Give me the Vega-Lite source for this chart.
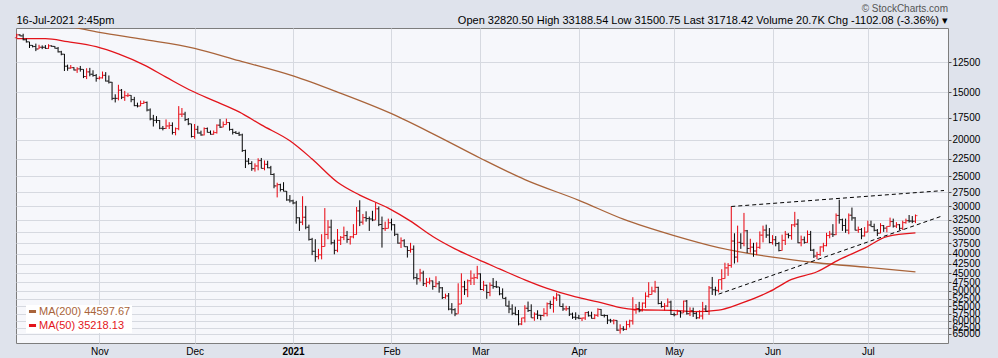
{
"$schema": "https://vega.github.io/schema/vega-lite/v6.json",
"width": 932, "height": 315,
"autosize": {"type": "none"},
"padding": {"left": 16, "top": 28, "right": 50, "bottom": 15},
"background": "#dfe3ec",
"title": {"text": "© StockCharts.com", "subtitle": "Open 32820.50 High 33188.54 Low 31500.75 Last 31718.42 Volume 20.7K Chg -1102.08 (-3.36%) ▾", "anchor": "end", "frame": "group", "offset": -12, "font": "Liberation Sans", "fontSize": 10, "fontWeight": "normal", "color": "#555555", "subtitleFont": "Liberation Sans", "subtitleFontSize": 11, "subtitleColor": "#000000", "subtitlePadding": 1},
"datasets": {
"px": [
{"d":"2020-10-06","o":10790,"h":10800,"l":10530,"c":10600},
{"d":"2020-10-07","o":10600,"h":10690,"l":10560,"c":10670},
{"d":"2020-10-08","o":10670,"h":10960,"l":10530,"c":10920},
{"d":"2020-10-09","o":10920,"h":11110,"l":10840,"c":11060},
{"d":"2020-10-10","o":11060,"h":11480,"l":11060,"c":11300},
{"d":"2020-10-11","o":11300,"h":11440,"l":11280,"c":11380},
{"d":"2020-10-12","o":11380,"h":11700,"l":11180,"c":11550},
{"d":"2020-10-13","o":11550,"h":11550,"l":11260,"c":11430},
{"d":"2020-10-14","o":11430,"h":11560,"l":11300,"c":11430},
{"d":"2020-10-15","o":11430,"h":11540,"l":11280,"c":11510},
{"d":"2020-10-16","o":11510,"h":11540,"l":11220,"c":11330},
{"d":"2020-10-17","o":11330,"h":11400,"l":11300,"c":11370},
{"d":"2020-10-18","o":11370,"h":11520,"l":11350,"c":11500},
{"d":"2020-10-19","o":11500,"h":11800,"l":11410,"c":11750},
{"d":"2020-10-20","o":11750,"h":12000,"l":11680,"c":11920},
{"d":"2020-10-21","o":11920,"h":13200,"l":11900,"c":12820},
{"d":"2020-10-22","o":12820,"h":13180,"l":12700,"c":12970},
{"d":"2020-10-23","o":12970,"h":13020,"l":12730,"c":12930},
{"d":"2020-10-24","o":12930,"h":13160,"l":12900,"c":13120},
{"d":"2020-10-25","o":13120,"h":13350,"l":12900,"c":13030},
{"d":"2020-10-26","o":13030,"h":13250,"l":12800,"c":13070},
{"d":"2020-10-27","o":13070,"h":13780,"l":13060,"c":13650},
{"d":"2020-10-28","o":13650,"h":13860,"l":12980,"c":13270},
{"d":"2020-10-29","o":13270,"h":13630,"l":12950,"c":13460},
{"d":"2020-10-30","o":13460,"h":13660,"l":13140,"c":13560},
{"d":"2020-10-31","o":13560,"h":14080,"l":13440,"c":13800},
{"d":"2020-11-01","o":13800,"h":13900,"l":13630,"c":13760},
{"d":"2020-11-02","o":13760,"h":13820,"l":13240,"c":13550},
{"d":"2020-11-03","o":13550,"h":14070,"l":13290,"c":14030},
{"d":"2020-11-04","o":14030,"h":14240,"l":13560,"c":14130},
{"d":"2020-11-05","o":14130,"h":15750,"l":14100,"c":15580},
{"d":"2020-11-06","o":15580,"h":15970,"l":15200,"c":15580},
{"d":"2020-11-07","o":15580,"h":15770,"l":14350,"c":14830},
{"d":"2020-11-08","o":14830,"h":15650,"l":14720,"c":15480},
{"d":"2020-11-09","o":15480,"h":15820,"l":14890,"c":15330},
{"d":"2020-11-10","o":15330,"h":15460,"l":15100,"c":15300},
{"d":"2020-11-11","o":15300,"h":15950,"l":15280,"c":15700},
{"d":"2020-11-12","o":15700,"h":16340,"l":15440,"c":16280},
{"d":"2020-11-13","o":16280,"h":16460,"l":15990,"c":16320},
{"d":"2020-11-14","o":16320,"h":16330,"l":15790,"c":16070},
{"d":"2020-11-15","o":16070,"h":16120,"l":15800,"c":15970},
{"d":"2020-11-16","o":15970,"h":16860,"l":15880,"c":16720},
{"d":"2020-11-17","o":16720,"h":17800,"l":16560,"c":17650},
{"d":"2020-11-18","o":17650,"h":18480,"l":17220,"c":17800},
{"d":"2020-11-19","o":17800,"h":18110,"l":17350,"c":17820},
{"d":"2020-11-20","o":17820,"h":18780,"l":17770,"c":18680},
{"d":"2020-11-21","o":18680,"h":18920,"l":18420,"c":18700},
{"d":"2020-11-22","o":18700,"h":18760,"l":17700,"c":18420},
{"d":"2020-11-23","o":18420,"h":18760,"l":18000,"c":18360},
{"d":"2020-11-24","o":18360,"h":19400,"l":18020,"c":19160},
{"d":"2020-11-25","o":19160,"h":19490,"l":18590,"c":18720},
{"d":"2020-11-26","o":18720,"h":18900,"l":16330,"c":17150},
{"d":"2020-11-27","o":17150,"h":17450,"l":16520,"c":17140},
{"d":"2020-11-28","o":17140,"h":17880,"l":16900,"c":17720},
{"d":"2020-11-29","o":17720,"h":18330,"l":17550,"c":18180},
{"d":"2020-11-30","o":18180,"h":19750,"l":18180,"c":19630},
{"d":"2020-12-01","o":19630,"h":19900,"l":18200,"c":18800},
{"d":"2020-12-02","o":18800,"h":19300,"l":18400,"c":19220},
{"d":"2020-12-03","o":19220,"h":19540,"l":18950,"c":19450},
{"d":"2020-12-04","o":19450,"h":19500,"l":18580,"c":18700},
{"d":"2020-12-05","o":18700,"h":19170,"l":18590,"c":19150},
{"d":"2020-12-06","o":19150,"h":19410,"l":18930,"c":19370},
{"d":"2020-12-07","o":19370,"h":19420,"l":18930,"c":19170},
{"d":"2020-12-08","o":19170,"h":19290,"l":18240,"c":18330},
{"d":"2020-12-09","o":18330,"h":18640,"l":17660,"c":18550},
{"d":"2020-12-10","o":18550,"h":18560,"l":17930,"c":18260},
{"d":"2020-12-11","o":18260,"h":18270,"l":17620,"c":18040},
{"d":"2020-12-12","o":18040,"h":18950,"l":18020,"c":18810},
{"d":"2020-12-13","o":18810,"h":19400,"l":18730,"c":19150},
{"d":"2020-12-14","o":19150,"h":19340,"l":19000,"c":19270},
{"d":"2020-12-15","o":19270,"h":19570,"l":19080,"c":19440},
{"d":"2020-12-16","o":19440,"h":21560,"l":19300,"c":21380},
{"d":"2020-12-17","o":21380,"h":23770,"l":21260,"c":22800},
{"d":"2020-12-18","o":22800,"h":23280,"l":22370,"c":23130},
{"d":"2020-12-19","o":23130,"h":24170,"l":22800,"c":23860},
{"d":"2020-12-20","o":23860,"h":24290,"l":23100,"c":23470},
{"d":"2020-12-21","o":23470,"h":24100,"l":22400,"c":22720},
{"d":"2020-12-22","o":22720,"h":23830,"l":22360,"c":23820},
{"d":"2020-12-23","o":23820,"h":24100,"l":22700,"c":23240},
{"d":"2020-12-24","o":23240,"h":23800,"l":22740,"c":23730},
{"d":"2020-12-25","o":23730,"h":24800,"l":23460,"c":24710},
{"d":"2020-12-26","o":24710,"h":26870,"l":24530,"c":26490},
{"d":"2020-12-27","o":26490,"h":28400,"l":25980,"c":26280},
{"d":"2020-12-28","o":26280,"h":27400,"l":26140,"c":27080},
{"d":"2020-12-29","o":27080,"h":27390,"l":25900,"c":27360},
{"d":"2020-12-30","o":27360,"h":28990,"l":27330,"c":28840},
{"d":"2020-12-31","o":28840,"h":29300,"l":28000,"c":29000},
{"d":"2021-01-01","o":29000,"h":29600,"l":28800,"c":29370},
{"d":"2021-01-02","o":29370,"h":33300,"l":29000,"c":32130},
{"d":"2021-01-03","o":32130,"h":34800,"l":32050,"c":33000},
{"d":"2021-01-04","o":33000,"h":33600,"l":28200,"c":32030},
{"d":"2021-01-05","o":32030,"h":34450,"l":29900,"c":34030},
{"d":"2021-01-06","o":34030,"h":36900,"l":33500,"c":36630},
{"d":"2021-01-07","o":36630,"h":40300,"l":36300,"c":39370},
{"d":"2021-01-08","o":39370,"h":41950,"l":36600,"c":40670},
{"d":"2021-01-09","o":40670,"h":41350,"l":38800,"c":40240},
{"d":"2021-01-10","o":40240,"h":41350,"l":35500,"c":38240},
{"d":"2021-01-11","o":38240,"h":38250,"l":30300,"c":35540},
{"d":"2021-01-12","o":35540,"h":36600,"l":32600,"c":34010},
{"d":"2021-01-13","o":34010,"h":37800,"l":32500,"c":37390},
{"d":"2021-01-14","o":37390,"h":40100,"l":36700,"c":39150},
{"d":"2021-01-15","o":39150,"h":39600,"l":34400,"c":36820},
{"d":"2021-01-16","o":36820,"h":37900,"l":35900,"c":36180},
{"d":"2021-01-17","o":36180,"h":36800,"l":33900,"c":35790},
{"d":"2021-01-18","o":35790,"h":37400,"l":34800,"c":36630},
{"d":"2021-01-19","o":36630,"h":37800,"l":35900,"c":36070},
{"d":"2021-01-20","o":36070,"h":36400,"l":33400,"c":35550},
{"d":"2021-01-21","o":35550,"h":35600,"l":30100,"c":30820},
{"d":"2021-01-22","o":30820,"h":33800,"l":28900,"c":33000},
{"d":"2021-01-23","o":33000,"h":33500,"l":31400,"c":32100},
{"d":"2021-01-24","o":32100,"h":32900,"l":30900,"c":32290},
{"d":"2021-01-25","o":32290,"h":34800,"l":31900,"c":32370},
{"d":"2021-01-26","o":32370,"h":32800,"l":30800,"c":32570},
{"d":"2021-01-27","o":32570,"h":32560,"l":29300,"c":30430},
{"d":"2021-01-28","o":30430,"h":33800,"l":30000,"c":33470},
{"d":"2021-01-29","o":33470,"h":38500,"l":31900,"c":34320},
{"d":"2021-01-30","o":34320,"h":34800,"l":32900,"c":34270},
{"d":"2021-01-31","o":34270,"h":34300,"l":32300,"c":33110},
{"d":"2021-02-01","o":33110,"h":34700,"l":32300,"c":33520},
{"d":"2021-02-02","o":33520,"h":35900,"l":33400,"c":35510},
{"d":"2021-02-03","o":35510,"h":37600,"l":35400,"c":37470},
{"d":"2021-02-04","o":37470,"h":38600,"l":36200,"c":36930},
{"d":"2021-02-05","o":36930,"h":38300,"l":36600,"c":38290},
{"d":"2021-02-06","o":38290,"h":40900,"l":38200,"c":39190},
{"d":"2021-02-07","o":39190,"h":39700,"l":37400,"c":38900},
{"d":"2021-02-08","o":38900,"h":46700,"l":38000,"c":46200},
{"d":"2021-02-09","o":46200,"h":48200,"l":45000,"c":46480},
{"d":"2021-02-10","o":46480,"h":47300,"l":43800,"c":44920},
{"d":"2021-02-11","o":44920,"h":48600,"l":44300,"c":47910},
{"d":"2021-02-12","o":47910,"h":48900,"l":46300,"c":47500},
{"d":"2021-02-13","o":47500,"h":48100,"l":46200,"c":47110},
{"d":"2021-02-14","o":47110,"h":49700,"l":47000,"c":48720},
{"d":"2021-02-15","o":48720,"h":49000,"l":45800,"c":47940},
{"d":"2021-02-16","o":47940,"h":50600,"l":47200,"c":49130},
{"d":"2021-02-17","o":49130,"h":52600,"l":48900,"c":52120},
{"d":"2021-02-18","o":52120,"h":52500,"l":50900,"c":51600},
{"d":"2021-02-19","o":51600,"h":56300,"l":50700,"c":55890},
{"d":"2021-02-20","o":55890,"h":57500,"l":53900,"c":56100},
{"d":"2021-02-21","o":56100,"h":58350,"l":55600,"c":57540},
{"d":"2021-02-22","o":57540,"h":57500,"l":47800,"c":54210},
{"d":"2021-02-23","o":54210,"h":54200,"l":45000,"c":48820},
{"d":"2021-02-24","o":48820,"h":51300,"l":47100,"c":49700},
{"d":"2021-02-25","o":49700,"h":52000,"l":46700,"c":47080},
{"d":"2021-02-26","o":47080,"h":48300,"l":44200,"c":46340},
{"d":"2021-02-27","o":46340,"h":48300,"l":45100,"c":46190},
{"d":"2021-02-28","o":46190,"h":46600,"l":43000,"c":45140},
{"d":"2021-03-01","o":45140,"h":49800,"l":45000,"c":49630},
{"d":"2021-03-02","o":49630,"h":50100,"l":47100,"c":48380},
{"d":"2021-03-03","o":48380,"h":52500,"l":48200,"c":50540},
{"d":"2021-03-04","o":50540,"h":51700,"l":47600,"c":48380},
{"d":"2021-03-05","o":48380,"h":49400,"l":46300,"c":48760},
{"d":"2021-03-06","o":48760,"h":49200,"l":47100,"c":48880},
{"d":"2021-03-07","o":48880,"h":51400,"l":48900,"c":50970},
{"d":"2021-03-08","o":50970,"h":52400,"l":49300,"c":52390},
{"d":"2021-03-09","o":52390,"h":54900,"l":51900,"c":54880},
{"d":"2021-03-10","o":54880,"h":57300,"l":53100,"c":55850},
{"d":"2021-03-11","o":55850,"h":58000,"l":54300,"c":57330},
{"d":"2021-03-12","o":57330,"h":58000,"l":55100,"c":57800},
{"d":"2021-03-13","o":57800,"h":61700,"l":56200,"c":61180},
{"d":"2021-03-14","o":61180,"h":61600,"l":58900,"c":58970},
{"d":"2021-03-15","o":58970,"h":60600,"l":54600,"c":55600},
{"d":"2021-03-16","o":55600,"h":56900,"l":53400,"c":56400},
{"d":"2021-03-17","o":56400,"h":58900,"l":54300,"c":58930},
{"d":"2021-03-18","o":58930,"h":60000,"l":57000,"c":57640},
{"d":"2021-03-19","o":57640,"h":59400,"l":56300,"c":58030},
{"d":"2021-03-20","o":58030,"h":59800,"l":57900,"c":58100},
{"d":"2021-03-21","o":58100,"h":58500,"l":55600,"c":57350},
{"d":"2021-03-22","o":57350,"h":58400,"l":53700,"c":54100},
{"d":"2021-03-23","o":54100,"h":55800,"l":53100,"c":54340},
{"d":"2021-03-24","o":54340,"h":57100,"l":51700,"c":52300},
{"d":"2021-03-25","o":52300,"h":53200,"l":50600,"c":51300},
{"d":"2021-03-26","o":51300,"h":55000,"l":51300,"c":55030},
{"d":"2021-03-27","o":55030,"h":56500,"l":54000,"c":55840},
{"d":"2021-03-28","o":55840,"h":56500,"l":54800,"c":55780},
{"d":"2021-03-29","o":55780,"h":58300,"l":54900,"c":57630},
{"d":"2021-03-30","o":57630,"h":59300,"l":57100,"c":58730},
{"d":"2021-03-31","o":58730,"h":59700,"l":57000,"c":58920},
{"d":"2021-04-01","o":58920,"h":59400,"l":57900,"c":59100},
{"d":"2021-04-02","o":59100,"h":60100,"l":58900,"c":59000},
{"d":"2021-04-03","o":59000,"h":59700,"l":56900,"c":57090},
{"d":"2021-04-04","o":57090,"h":58500,"l":56600,"c":58200},
{"d":"2021-04-05","o":58200,"h":59200,"l":56800,"c":59120},
{"d":"2021-04-06","o":59120,"h":59400,"l":57600,"c":58020},
{"d":"2021-04-07","o":58020,"h":58600,"l":55600,"c":56000},
{"d":"2021-04-08","o":56000,"h":58200,"l":55900,"c":58090},
{"d":"2021-04-09","o":58090,"h":58800,"l":57700,"c":58100},
{"d":"2021-04-10","o":58100,"h":61200,"l":57900,"c":59770},
{"d":"2021-04-11","o":59770,"h":60700,"l":59300,"c":60000},
{"d":"2021-04-12","o":60000,"h":61300,"l":59400,"c":59860},
{"d":"2021-04-13","o":59860,"h":63800,"l":59800,"c":63500},
{"d":"2021-04-14","o":63500,"h":64850,"l":61300,"c":62970},
{"d":"2021-04-15","o":62970,"h":63800,"l":62000,"c":63200},
{"d":"2021-04-16","o":63200,"h":63500,"l":60000,"c":61400},
{"d":"2021-04-17","o":61400,"h":62500,"l":59600,"c":60000},
{"d":"2021-04-18","o":60000,"h":61400,"l":52000,"c":56200},
{"d":"2021-04-19","o":56200,"h":57500,"l":54200,"c":55700},
{"d":"2021-04-20","o":55700,"h":57000,"l":53500,"c":56470},
{"d":"2021-04-21","o":56470,"h":56700,"l":53700,"c":53900},
{"d":"2021-04-22","o":53900,"h":55500,"l":50500,"c":51700},
{"d":"2021-04-23","o":51700,"h":52100,"l":47500,"c":51170},
{"d":"2021-04-24","o":51170,"h":51200,"l":48800,"c":50100},
{"d":"2021-04-25","o":50100,"h":50600,"l":47100,"c":49000},
{"d":"2021-04-26","o":49000,"h":54300,"l":48800,"c":54020},
{"d":"2021-04-27","o":54020,"h":55400,"l":53300,"c":55030},
{"d":"2021-04-28","o":55030,"h":56400,"l":53900,"c":54850},
{"d":"2021-04-29","o":54850,"h":55200,"l":52400,"c":53560},
{"d":"2021-04-30","o":53560,"h":57900,"l":53100,"c":57750},
{"d":"2021-05-01","o":57750,"h":58400,"l":57100,"c":57830},
{"d":"2021-05-02","o":57830,"h":57900,"l":56100,"c":56630},
{"d":"2021-05-03","o":56630,"h":58900,"l":56500,"c":57200},
{"d":"2021-05-04","o":57200,"h":57200,"l":53100,"c":53240},
{"d":"2021-05-05","o":53240,"h":57800,"l":52900,"c":57470},
{"d":"2021-05-06","o":57470,"h":58300,"l":55300,"c":56430},
{"d":"2021-05-07","o":56430,"h":58600,"l":55400,"c":57380},
{"d":"2021-05-08","o":57380,"h":59400,"l":56900,"c":58930},
{"d":"2021-05-09","o":58930,"h":59200,"l":56300,"c":58280},
{"d":"2021-05-10","o":58280,"h":59500,"l":53500,"c":55860},
{"d":"2021-05-11","o":55860,"h":56800,"l":54600,"c":56700},
{"d":"2021-05-12","o":56700,"h":57900,"l":48600,"c":49150},
{"d":"2021-05-13","o":49150,"h":51300,"l":46000,"c":49720},
{"d":"2021-05-14","o":49720,"h":51500,"l":48800,"c":49880},
{"d":"2021-05-15","o":49880,"h":50500,"l":46700,"c":46760},
{"d":"2021-05-16","o":46760,"h":49700,"l":43900,"c":46450},
{"d":"2021-05-17","o":46450,"h":46500,"l":42200,"c":43540},
{"d":"2021-05-18","o":43540,"h":45700,"l":42300,"c":42910},
{"d":"2021-05-19","o":42910,"h":43500,"l":30000,"c":37000},
{"d":"2021-05-20","o":37000,"h":42400,"l":35300,"c":40780},
{"d":"2021-05-21","o":40780,"h":42100,"l":33700,"c":37300},
{"d":"2021-05-22","o":37300,"h":38800,"l":35300,"c":37530},
{"d":"2021-05-23","o":37530,"h":38200,"l":31200,"c":34770},
{"d":"2021-05-24","o":34770,"h":39800,"l":34600,"c":38700},
{"d":"2021-05-25","o":38700,"h":39700,"l":36500,"c":38400},
{"d":"2021-05-26","o":38400,"h":40700,"l":37400,"c":39300},
{"d":"2021-05-27","o":39300,"h":40300,"l":37300,"c":38440},
{"d":"2021-05-28","o":38440,"h":38800,"l":34900,"c":35700},
{"d":"2021-05-29","o":35700,"h":37300,"l":33700,"c":34620},
{"d":"2021-05-30","o":34620,"h":36300,"l":33500,"c":35680},
{"d":"2021-05-31","o":35680,"h":37500,"l":34200,"c":37340},
{"d":"2021-06-01","o":37340,"h":37800,"l":35700,"c":36700},
{"d":"2021-06-02","o":36700,"h":38200,"l":35900,"c":37570},
{"d":"2021-06-03","o":37570,"h":39400,"l":37200,"c":39190},
{"d":"2021-06-04","o":39190,"h":39200,"l":35600,"c":36850},
{"d":"2021-06-05","o":36850,"h":37900,"l":34800,"c":35520},
{"d":"2021-06-06","o":35520,"h":36400,"l":35300,"c":35800},
{"d":"2021-06-07","o":35800,"h":36700,"l":33400,"c":33550},
{"d":"2021-06-08","o":33550,"h":34000,"l":31000,"c":33400},
{"d":"2021-06-09","o":33400,"h":37500,"l":32400,"c":37390},
{"d":"2021-06-10","o":37390,"h":38200,"l":35800,"c":36700},
{"d":"2021-06-11","o":36700,"h":37600,"l":36000,"c":37310},
{"d":"2021-06-12","o":37310,"h":37400,"l":34700,"c":35550},
{"d":"2021-06-13","o":35550,"h":39300,"l":34800,"c":39100},
{"d":"2021-06-14","o":39100,"h":41000,"l":38800,"c":40520},
{"d":"2021-06-15","o":40520,"h":41300,"l":39500,"c":40140},
{"d":"2021-06-16","o":40140,"h":40500,"l":38200,"c":38350},
{"d":"2021-06-17","o":38350,"h":39500,"l":37400,"c":38050},
{"d":"2021-06-18","o":38050,"h":38200,"l":35200,"c":35790},
{"d":"2021-06-19","o":35790,"h":36400,"l":34800,"c":35480},
{"d":"2021-06-20","o":35480,"h":36100,"l":33400,"c":35600},
{"d":"2021-06-21","o":35600,"h":35700,"l":31300,"c":31680},
{"d":"2021-06-22","o":31680,"h":33300,"l":28800,"c":32500},
{"d":"2021-06-23","o":32500,"h":34800,"l":32300,"c":33680},
{"d":"2021-06-24","o":33680,"h":35200,"l":32300,"c":34640},
{"d":"2021-06-25","o":34640,"h":35500,"l":31300,"c":31640},
{"d":"2021-06-26","o":31640,"h":32700,"l":30200,"c":32160},
{"d":"2021-06-27","o":32160,"h":34700,"l":32000,"c":34650},
{"d":"2021-06-28","o":34650,"h":35200,"l":33900,"c":34500},
{"d":"2021-06-29","o":34500,"h":36600,"l":34200,"c":35870},
{"d":"2021-06-30","o":35870,"h":36000,"l":34000,"c":35040},
{"d":"2021-07-01","o":35040,"h":35100,"l":32700,"c":33570},
{"d":"2021-07-02","o":33570,"h":33900,"l":32700,"c":33900},
{"d":"2021-07-03","o":33900,"h":34900,"l":33300,"c":34670},
{"d":"2021-07-04","o":34670,"h":35900,"l":34400,"c":35290},
{"d":"2021-07-05","o":35290,"h":35300,"l":33200,"c":33690},
{"d":"2021-07-06","o":33690,"h":35000,"l":33600,"c":34220},
{"d":"2021-07-07","o":34220,"h":35100,"l":33800,"c":33860},
{"d":"2021-07-08","o":33860,"h":33900,"l":32100,"c":32880},
{"d":"2021-07-09","o":32880,"h":34100,"l":32300,"c":33800},
{"d":"2021-07-10","o":33800,"h":34200,"l":33000,"c":33510},
{"d":"2021-07-11","o":33510,"h":34600,"l":33400,"c":34260},
{"d":"2021-07-12","o":34260,"h":34600,"l":32700,"c":33090},
{"d":"2021-07-13","o":33090,"h":33300,"l":32300,"c":32700},
{"d":"2021-07-14","o":32700,"h":33100,"l":31600,"c":32780},
{"d":"2021-07-15","o":32780,"h":33200,"l":31800,"c":32820.5},
{"d":"2021-07-16","o":32820.5,"h":33188.54,"l":31500.75,"c":31718.42}
],
"ma": [
{"d":"2020-10-06","v":9850,"s":"MA(200) 44597.67"},
{"d":"2020-10-20","v":10000,"s":"MA(200) 44597.67"},
{"d":"2020-11-01","v":10450,"s":"MA(200) 44597.67"},
{"d":"2020-11-15","v":10900,"s":"MA(200) 44597.67"},
{"d":"2020-12-01","v":11500,"s":"MA(200) 44597.67"},
{"d":"2020-12-15","v":12400,"s":"MA(200) 44597.67"},
{"d":"2021-01-01","v":13600,"s":"MA(200) 44597.67"},
{"d":"2021-01-15","v":15000,"s":"MA(200) 44597.67"},
{"d":"2021-02-01","v":17100,"s":"MA(200) 44597.67"},
{"d":"2021-02-15","v":19500,"s":"MA(200) 44597.67"},
{"d":"2021-03-01","v":22400,"s":"MA(200) 44597.67"},
{"d":"2021-03-15","v":25500,"s":"MA(200) 44597.67"},
{"d":"2021-04-01","v":28900,"s":"MA(200) 44597.67"},
{"d":"2021-04-15","v":32400,"s":"MA(200) 44597.67"},
{"d":"2021-05-01","v":35800,"s":"MA(200) 44597.67"},
{"d":"2021-05-15","v":38500,"s":"MA(200) 44597.67"},
{"d":"2021-06-01","v":40800,"s":"MA(200) 44597.67"},
{"d":"2021-06-15","v":42200,"s":"MA(200) 44597.67"},
{"d":"2021-07-01","v":43400,"s":"MA(200) 44597.67"},
{"d":"2021-07-16","v":44597.67,"s":"MA(200) 44597.67"},
{"d":"2020-10-06","v":10850,"s":"MA(50) 35218.13"},
{"d":"2020-10-15","v":10850,"s":"MA(50) 35218.13"},
{"d":"2020-10-22","v":11050,"s":"MA(50) 35218.13"},
{"d":"2020-10-31","v":11390,"s":"MA(50) 35218.13"},
{"d":"2020-11-07","v":11900,"s":"MA(50) 35218.13"},
{"d":"2020-11-15","v":12720,"s":"MA(50) 35218.13"},
{"d":"2020-11-22","v":13700,"s":"MA(50) 35218.13"},
{"d":"2020-11-30","v":14880,"s":"MA(50) 35218.13"},
{"d":"2020-12-07","v":15800,"s":"MA(50) 35218.13"},
{"d":"2020-12-15","v":16910,"s":"MA(50) 35218.13"},
{"d":"2020-12-22","v":18300,"s":"MA(50) 35218.13"},
{"d":"2020-12-31","v":20150,"s":"MA(50) 35218.13"},
{"d":"2021-01-07","v":22500,"s":"MA(50) 35218.13"},
{"d":"2021-01-15","v":25900,"s":"MA(50) 35218.13"},
{"d":"2021-01-22","v":28000,"s":"MA(50) 35218.13"},
{"d":"2021-01-31","v":30300,"s":"MA(50) 35218.13"},
{"d":"2021-02-07","v":32800,"s":"MA(50) 35218.13"},
{"d":"2021-02-14","v":36000,"s":"MA(50) 35218.13"},
{"d":"2021-02-21","v":38800,"s":"MA(50) 35218.13"},
{"d":"2021-02-28","v":41300,"s":"MA(50) 35218.13"},
{"d":"2021-03-07","v":43800,"s":"MA(50) 35218.13"},
{"d":"2021-03-15","v":46800,"s":"MA(50) 35218.13"},
{"d":"2021-03-22","v":49300,"s":"MA(50) 35218.13"},
{"d":"2021-03-31","v":51900,"s":"MA(50) 35218.13"},
{"d":"2021-04-07","v":53500,"s":"MA(50) 35218.13"},
{"d":"2021-04-15","v":55600,"s":"MA(50) 35218.13"},
{"d":"2021-04-22","v":56200,"s":"MA(50) 35218.13"},
{"d":"2021-04-30","v":56300,"s":"MA(50) 35218.13"},
{"d":"2021-05-07","v":56770,"s":"MA(50) 35218.13"},
{"d":"2021-05-15","v":56230,"s":"MA(50) 35218.13"},
{"d":"2021-05-22","v":54000,"s":"MA(50) 35218.13"},
{"d":"2021-05-31","v":50300,"s":"MA(50) 35218.13"},
{"d":"2021-06-07","v":46700,"s":"MA(50) 35218.13"},
{"d":"2021-06-15","v":44570,"s":"MA(50) 35218.13"},
{"d":"2021-06-22","v":41430,"s":"MA(50) 35218.13"},
{"d":"2021-06-30","v":38620,"s":"MA(50) 35218.13"},
{"d":"2021-07-07","v":36000,"s":"MA(50) 35218.13"},
{"d":"2021-07-16","v":35218.13,"s":"MA(50) 35218.13"}
],
"trend": [
{"d":"2021-05-19","v":30010,"t":"upper"},
{"d":"2021-07-25","v":27240,"t":"upper"},
{"d":"2021-05-15","v":51050,"t":"lower"},
{"d":"2021-07-24","v":31870,"t":"lower"}
]
},
"layer": [
{
"data": {"name": "ma"},
"mark": {"type": "line", "strokeWidth": 1.3, "clip": true, "interpolate": "monotone"},
"encoding": {
"x": {"field": "d", "type": "temporal",
"scale": {"type": "utc", "domain": [{"year": 2020, "month": 10, "date": 5, "hours": 18, "utc": true}, {"year": 2021, "month": 7, "date": 26, "hours": 6, "utc": true}]},
"axis": {"orient": "top", "labels": false, "ticks": false, "domain": false, "grid": false, "title": "16-Jul-2021 2:45pm", "titleAnchor": "start", "titleAlign": "left", "titleFont": "Liberation Sans", "titleFontSize": 11, "titleFontWeight": "normal", "titleColor": "#000000", "titlePadding": 3}},
"y": {"field": "v", "type": "quantitative",
"scale": {"type": "log", "reverse": true, "domain": [10170, 68650], "nice": false, "zero": false},
"axis": {"orient": "right", "values": [12500,15000,17500,20000,22500,25000,27500,30000,32500,35000,37500,40000,42500,45000,47500,50000,52500,55000,57500,60000,62500,65000], "format": "d", "labelFont": "Liberation Sans", "labelFontSize": 10, "labelColor": "#000000", "labelOverlap": false, "labelPadding": 1, "tickSize": 3, "tickColor": "#555555", "domain": false, "grid": true, "gridColor": "#d6d9e0", "title": null}},
"color": {"field": "s", "type": "nominal",
"scale": {"domain": ["MA(200) 44597.67", "MA(50) 35218.13"], "range": ["#a9643a", "#e3141b"]},
"legend": {"orient": "bottom-left", "offset": 10, "title": null, "symbolType": "stroke", "symbolStrokeWidth": 3, "symbolSize": 50, "labelFont": "Liberation Sans", "labelFontSize": 11, "labelColor": {"expr": "indexof(datum.label, 'MA(50)') == 0 ? '#e3141b' : '#a9643a'"}, "fillColor": "#ffffff", "padding": 1, "rowPadding": 1, "labelOffset": 1}}
}
},
{
"data": {"name": "px"},
"mark": {"type": "rule", "strokeWidth": 1},
"encoding": {
"x": {"field": "d", "type": "temporal",
"axis": {"orient": "bottom", "values": [{"year": 2020, "month": 11, "date": 1, "utc": true}, {"year": 2020, "month": 12, "date": 1, "utc": true}, {"year": 2021, "month": 1, "date": 1, "utc": true}, {"year": 2021, "month": 2, "date": 1, "utc": true}, {"year": 2021, "month": 3, "date": 1, "utc": true}, {"year": 2021, "month": 4, "date": 1, "utc": true}, {"year": 2021, "month": 5, "date": 1, "utc": true}, {"year": 2021, "month": 6, "date": 1, "utc": true}, {"year": 2021, "month": 7, "date": 1, "utc": true}],
"labelExpr": "utcFormat(datum.value, '%m') == '01' ? utcFormat(datum.value, '%Y') : utcFormat(datum.value, '%b')",
"labelFontWeight": {"condition": {"test": "utcFormat(datum.value, '%m') == '01'", "value": "bold"}, "value": "normal"},
"labelFont": "Liberation Sans", "labelFontSize": 10, "labelColor": "#000000", "labelPadding": 3, "ticks": false, "domain": false, "grid": true, "gridColor": "#d6d9e0", "title": null}},
"y": {"field": "l", "type": "quantitative"},
"y2": {"field": "h"},
"color": {"condition": {"test": "datum.c < datum.o", "value": "#e8000b"}, "value": "#000000"}
}
},
{
"data": {"name": "px"},
"mark": {"type": "tick", "orient": "horizontal", "size": 2, "thickness": 1, "xOffset": -1},
"encoding": {
"x": {"field": "d", "type": "temporal", "axis": null},
"y": {"field": "o", "type": "quantitative"},
"color": {"condition": {"test": "datum.c < datum.o", "value": "#e8000b"}, "value": "#000000"}
}
},
{
"data": {"name": "px"},
"mark": {"type": "tick", "orient": "horizontal", "size": 2, "thickness": 1, "xOffset": 1},
"encoding": {
"x": {"field": "d", "type": "temporal", "axis": null},
"y": {"field": "c", "type": "quantitative"},
"color": {"condition": {"test": "datum.c < datum.o", "value": "#e8000b"}, "value": "#000000"}
}
},
{
"data": {"name": "trend"},
"mark": {"type": "line", "strokeDash": [4, 3], "strokeWidth": 1, "color": "#000000"},
"encoding": {
"x": {"field": "d", "type": "temporal", "axis": null},
"y": {"field": "v", "type": "quantitative"},
"detail": {"field": "t"}
}
}
],
"resolve": {"axis": {"x": "independent"}},
"config": {
"font": "Liberation Sans",
"view": {"fill": "#f6f7fb", "stroke": "#7d7d7d"}
}
}
